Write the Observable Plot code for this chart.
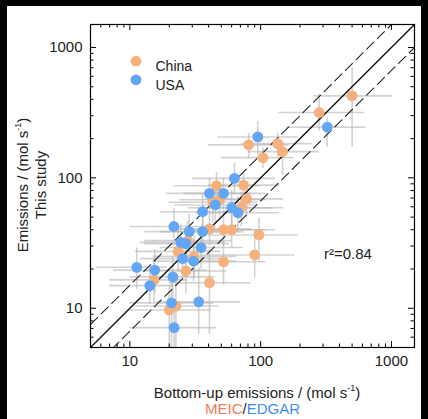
<!DOCTYPE html>
<html><head><meta charset="utf-8">
<script src="https://cdn.jsdelivr.net/npm/d3@7"></script>
<script src="https://cdn.jsdelivr.net/npm/@observablehq/plot@0.6"></script>
<style>
html,body{margin:0;padding:0;background:#000;width:428px;height:419px;overflow:hidden;font-family:"Liberation Sans",Arial,sans-serif;color:#222;}
#panel{position:absolute;left:7px;top:6px;width:414px;height:413px;background:#fff;}
#chart{position:absolute;left:0;top:0;}
.lbl{position:absolute;white-space:nowrap;font-size:15px;line-height:16px;transform:translate(-50%,-50%);}
.rot{transform:translate(-50%,-50%) rotate(-90deg);}
sup{font-size:9px;line-height:0;position:relative;top:-1px;}
</style></head>
<body>
<div id="panel">
  <div id="chart"></div>
  <div class="lbl rot" style="left:16px;top:179px;">Emissions / (mol s<sup>-1</sup>)</div>
  <div class="lbl rot" style="left:34px;top:179px;">This study</div>
  <div class="lbl" style="left:250px;top:387px;">Bottom-up emissions / (mol s<sup>-1</sup>)</div>
  <div class="lbl" style="left:245.5px;top:403px;"><span style="color:#f07a5c">MEIC</span>/<span style="color:#3f8cf5">EDGAR</span></div>
</div>
<script>
// China (MEIC)
const chinaX   = [500, 280, 81, 135, 147, 104, 46, 74, 78, 43, 48.5, 71, 52, 60, 40.6, 97, 90, 52, 40.6, 23.4, 31, 26.8, 27.7, 15.3, 20, 22.5];
const chinaY   = [425, 317, 179, 183, 159, 143, 87, 88, 69, 65, 68, 59, 40, 40, 40.6, 36.5, 25.6, 22.7, 15.7, 27.3, 25, 19.3, 33, 16.5, 9.7, 10.4];
const chinaXlo = [255, 137, 40, 71, 80, 50, 22, 40, 38, 20, 24, 34, 26, 30, 20, 40, 35, 25, 20, 11, 15, 13, 13, 7, 10, 11];
const chinaXhi = [1030, 620, 165, 247, 280, 180, 100, 140, 150, 95, 110, 150, 110, 130, 85, 195, 183, 110, 85, 50, 65, 55, 60, 27.7, 42, 48];
const chinaYlo = [171, 230, 140, 145, 105, 118, 60, 65, 50, 45, 50, 42, 30, 29, 30, 23, 17, 15, 6.3, 19, 17, 13, 23, 11, 4, 5];
const chinaYhi = [700, 440, 220, 220, 185, 170, 110, 110, 90, 85, 90, 78, 55, 52, 55, 49, 39, 32, 27.6, 40, 36, 28, 46, 24, 15, 16];
// USA (EDGAR)
const usaX   = [323, 95, 63, 40.6, 52, 36, 45, 60, 67, 21.7, 28.4, 36, 24.5, 26.8, 35, 25.3, 30.7, 11.3, 15.5, 14.2, 21.3, 20.8, 33.6, 21.8];
const usaY   = [245, 206, 99, 76, 76, 55, 62, 59, 54, 42.4, 38.7, 38.7, 32, 31.3, 29.2, 24, 23, 20.6, 19.6, 14.9, 17.4, 11, 11.2, 7.1];
const usaXlo = [158, 47, 30, 19, 26, 17, 22, 28, 32, 10, 13, 17, 12, 13, 17, 12, 15, 5.6, 7.5, 7, 10, 10, 16, 10];
const usaXhi = [640, 195, 130, 85, 110, 75, 95, 125, 140, 46, 60, 75, 52, 58, 74, 54, 65, 19.4, 39, 21.7, 45, 44, 70, 46];
const usaYlo = [171, 150, 75, 55, 55, 40, 45, 42, 38, 30, 27, 27, 22, 22, 20, 16, 16, 14, 13, 10.7, 12, 5, 6.3, 4];
const usaYhi = [290, 270, 130, 100, 100, 75, 82, 80, 72, 58, 53, 54, 44, 43, 41, 34, 32, 29, 28, 18.4, 25, 17, 20.3, 9.5];

const axisDomain = [5, 1500];
const majorTicks = [10, 100, 1000];
const minorTicks = [6, 7, 8, 9, 20, 30, 40, 50, 60, 70, 80, 90, 200, 300, 400, 500, 600, 700, 800, 900];
const refX = [5, 1500];
const dashFactor = 1.5;
const legendNames = ["China", "USA"];
const r2Label = "r²=0.84";

const orange = "#f6b07c", blue = "#63a6f5";
const rows = (X, Y, XL, XH, YL, YH) => X.map((x, i) => ({x, y: Y[i], xlo: XL[i], xhi: XH[i], ylo: YL[i], yhi: YH[i]}));
const china = rows(chinaX, chinaY, chinaXlo, chinaXhi, chinaYlo, chinaYhi);
const usa = rows(usaX, usaY, usaXlo, usaXhi, usaYlo, usaYhi);
const all = china.concat(usa);

const W = 414, H = 370, mL = 83, mR = 7, mT = 18, mB = 29;
const iW = W - mL - mR, iH = H - mT - mB;
const majLen = 6, minLen = 3.5;
const errStyle = {stroke: "#b4b4b4", strokeOpacity: 0.6, strokeWidth: 1.6, clip: true};

const chart = Plot.plot({
  width: W, height: H, marginLeft: mL, marginRight: mR, marginTop: mT, marginBottom: mB,
  style: {fontFamily: "'Liberation Sans', Arial, sans-serif", fontSize: "15px", color: "#222", background: "transparent"},
  x: {type: "log", domain: axisDomain},
  y: {type: "log", domain: axisDomain},
  marks: [
    Plot.ruleY(all, {y: "y", x1: "xlo", x2: "xhi", ...errStyle}),
    Plot.ruleX(all, {x: "x", y1: "ylo", y2: "yhi", ...errStyle}),
    Plot.line(refX, {x: d => d, y: d => d * dashFactor, stroke: "#222", strokeWidth: 1.1, strokeDasharray: "10,5", clip: true}),
    Plot.line(refX, {x: d => d, y: d => d / dashFactor, stroke: "#222", strokeWidth: 1.1, strokeDasharray: "10,5", clip: true}),
    Plot.line(refX, {x: d => d, y: d => d, stroke: "#111", strokeWidth: 1.4, clip: true}),
    Plot.dot(china, {x: "x", y: "y", r: 5.4, fill: orange}),
    Plot.dot(usa, {x: "x", y: "y", r: 5.4, fill: blue}),
    // inward ticks on all four sides
    Plot.tickX(majorTicks, {x: d => d, insetTop: iH - majLen, stroke: "#000"}),
    Plot.tickX(majorTicks, {x: d => d, insetBottom: iH - majLen, stroke: "#000"}),
    Plot.tickX(minorTicks, {x: d => d, insetTop: iH - minLen, stroke: "#000"}),
    Plot.tickX(minorTicks, {x: d => d, insetBottom: iH - minLen, stroke: "#000"}),
    Plot.tickY(majorTicks, {y: d => d, insetRight: iW - majLen, stroke: "#000"}),
    Plot.tickY(majorTicks, {y: d => d, insetLeft: iW - majLen, stroke: "#000"}),
    Plot.tickY(minorTicks, {y: d => d, insetRight: iW - minLen, stroke: "#000"}),
    Plot.tickY(minorTicks, {y: d => d, insetLeft: iW - minLen, stroke: "#000"}),
    Plot.axisX({ticks: majorTicks, tickSize: 0, tickPadding: 8, tickFormat: d => String(d), label: null, fontSize: 15}),
    Plot.axisY({ticks: majorTicks, tickSize: 0, tickPadding: 8, tickFormat: d => String(d), label: null, fontSize: 15}),
    Plot.frame({stroke: "#000", strokeWidth: 1.2}),
    // legend
    Plot.dot([legendNames[0]], {frameAnchor: "top-left", dx: 45.5, dy: 36.7, r: 5.4, fill: orange}),
    Plot.dot([legendNames[1]], {frameAnchor: "top-left", dx: 45.5, dy: 55.3, r: 5.4, fill: blue}),
    Plot.text([legendNames[0]], {frameAnchor: "top-left", dx: 65, dy: 36.7, text: d => d, textAnchor: "start", fontSize: 14, fill: "#222"}),
    Plot.text([legendNames[1]], {frameAnchor: "top-left", dx: 65, dy: 55.3, text: d => d, textAnchor: "start", fontSize: 14, fill: "#222"}),
    Plot.text([r2Label], {frameAnchor: "top-left", dx: 233.5, dy: 224, text: d => d, textAnchor: "start", fontSize: 15, fill: "#222"})
  ]
});
document.getElementById("chart").appendChild(chart);
</script>
</body></html>
